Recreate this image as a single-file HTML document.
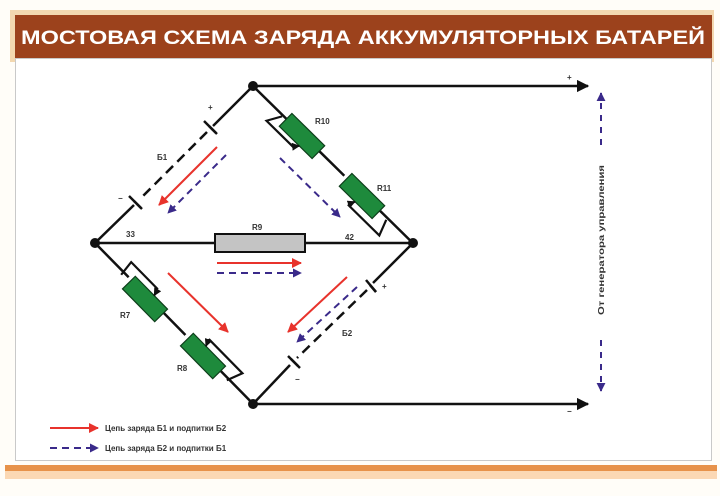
<!DOCTYPE html>
<html><head><meta charset="utf-8"><style>
html,body{margin:0;padding:0;background:#fffdf8;width:720px;height:496px;overflow:hidden}
svg{display:block}
text{font-family:"Liberation Sans",sans-serif}
</style></head><body>
<svg width="720" height="496" viewBox="0 0 720 496" xmlns="http://www.w3.org/2000/svg">
<defs>
<marker id="ak" viewBox="0 0 10 10" refX="9" refY="5" markerWidth="5" markerHeight="5" orient="auto"><path d="M0,0L10,5L0,10z" fill="#111"/></marker>
<marker id="ar" viewBox="0 0 10 10" refX="9" refY="5" markerWidth="5" markerHeight="5" orient="auto"><path d="M0,0L10,5L0,10z" fill="#e8332c"/></marker>
<marker id="ab" viewBox="0 0 10 10" refX="9" refY="5" markerWidth="4.5" markerHeight="4.5" orient="auto"><path d="M0,0L10,5L0,10z" fill="#3a2a8a"/></marker>
<marker id="as" viewBox="0 0 10 10" refX="9" refY="5" markerWidth="4" markerHeight="4" orient="auto"><path d="M0,0L10,5L0,10z" fill="#111"/></marker>
</defs>
<rect x="10" y="10" width="704" height="52" fill="#f3d8b0"/>
<rect x="15" y="15" width="697" height="43" fill="#9c421c"/>
<text x="363" y="44" text-anchor="middle" fill="#fff" font-size="19" font-weight="bold" textLength="684" lengthAdjust="spacingAndGlyphs">МОСТОВАЯ СХЕМА ЗАРЯДА АККУМУЛЯТОРНЫХ БАТАРЕЙ</text>
<rect x="15.5" y="58.5" width="696" height="402" fill="#fff" stroke="#c9c9c9"/>
<rect x="5" y="465" width="712" height="6" fill="#e7924a"/>
<rect x="5" y="471" width="712" height="8" fill="#fbd8b4"/>

<g stroke="#111" stroke-width="2.5" fill="none">
<line x1="253" y1="86" x2="588" y2="86" marker-end="url(#ak)"/>
<line x1="253" y1="404" x2="588" y2="404" marker-end="url(#ak)"/>
<line x1="95" y1="243" x2="413" y2="243"/>
<line x1="253" y1="86" x2="213" y2="126"/>
<line x1="207" y1="132" x2="140" y2="199" stroke-dasharray="10,6"/>
<line x1="134" y1="205" x2="95" y2="243"/>
<line x1="413" y1="243" x2="373" y2="283"/>
<line x1="367" y1="290" x2="297" y2="358" stroke-dasharray="10,6"/>
<line x1="290" y1="365" x2="253" y2="404"/>
</g>
<g stroke="#111" stroke-width="2.5">
<line x1="204" y1="121" x2="216" y2="133"/><line x1="209" y1="126" x2="217" y2="134"/>
<line x1="129" y1="196" x2="141" y2="208"/><line x1="134" y1="201" x2="142" y2="209"/>
<line x1="366" y1="280" x2="376" y2="292"/><line x1="370" y1="285" x2="376" y2="292"/>
<line x1="288" y1="356" x2="300" y2="368"/><line x1="291" y1="359" x2="298" y2="366"/>
</g>
<g transform="translate(253,86) rotate(44.5)">
<path d="M0,0 L49,0 M93,0 L128,0 M172,0 L224,0" stroke="#111" stroke-width="2.5" fill="none"/>
</g>
<g transform="translate(302,136) rotate(44.5)">
<rect x="-23" y="-9" width="46" height="18" fill="#1e8a3c" stroke="#0d3d1a" stroke-width="1.2"/>
<path d="M-28,0 L-36,14 L1,14" stroke="#111" stroke-width="2.2" fill="none"/>
<path d="M1,14 L5,9" stroke="#111" stroke-width="2" marker-end="url(#as)"/>
</g>
<g transform="translate(362,196) rotate(44.5)">
<rect x="-23" y="-9" width="46" height="18" fill="#1e8a3c" stroke="#0d3d1a" stroke-width="1.2"/>
<path d="M34,0 L40,16 L-4,16" stroke="#111" stroke-width="2.2" fill="none"/>
<path d="M-4,16 L-1,9" stroke="#111" stroke-width="2" marker-end="url(#as)"/>
</g>
<g transform="translate(95,243) rotate(45.5)">
<path d="M0,0 L48,0 M94,0 L129,0 M175,0 L226,0" stroke="#111" stroke-width="2.5" fill="none"/>
</g>
<g transform="translate(145,299) rotate(45.5)">
<rect x="-23" y="-9" width="46" height="18" fill="#1e8a3c" stroke="#0d3d1a" stroke-width="1.2"/>
<path d="M-34,0 L-36,-16 L2,-16" stroke="#111" stroke-width="2.2" fill="none"/>
<path d="M2,-16 L4,-9" stroke="#111" stroke-width="2" marker-end="url(#as)"/>
</g>
<g transform="translate(203,356) rotate(45.5)">
<rect x="-23" y="-9" width="46" height="18" fill="#1e8a3c" stroke="#0d3d1a" stroke-width="1.2"/>
<path d="M34,0 L40,-16 L-8,-16" stroke="#111" stroke-width="2.2" fill="none"/>
<path d="M-8,-16 L-5,-9" stroke="#111" stroke-width="2" marker-end="url(#as)"/>
</g>
<rect x="215" y="234" width="90" height="18" fill="#c4c4c4" stroke="#111" stroke-width="2"/>
<g fill="#111"><circle cx="253" cy="86" r="5"/><circle cx="95" cy="243" r="5"/><circle cx="413" cy="243" r="5"/><circle cx="253" cy="404" r="5"/></g>

<g stroke-width="2" fill="none">
<line x1="217" y1="147" x2="159" y2="205" stroke="#e8332c" marker-end="url(#ar)"/>
<line x1="226" y1="155" x2="168" y2="213" stroke="#3a2a8a" stroke-dasharray="7,5" marker-end="url(#ab)"/>
<line x1="280" y1="158" x2="340" y2="217" stroke="#3a2a8a" stroke-dasharray="7,5" marker-end="url(#ab)"/>
<line x1="217" y1="263" x2="301" y2="263" stroke="#e8332c" marker-end="url(#ar)"/>
<line x1="217" y1="273" x2="301" y2="273" stroke="#3a2a8a" stroke-dasharray="7,5" marker-end="url(#ab)"/>
<line x1="168" y1="273" x2="228" y2="332" stroke="#e8332c" marker-end="url(#ar)"/>
<line x1="347" y1="277" x2="288" y2="332" stroke="#e8332c" marker-end="url(#ar)"/>
<line x1="357" y1="287" x2="297" y2="342" stroke="#3a2a8a" stroke-dasharray="7,5" marker-end="url(#ab)"/>
<line x1="601" y1="145" x2="601" y2="93" stroke="#3a2a8a" stroke-dasharray="6,6" marker-end="url(#ab)"/>
<line x1="601" y1="340" x2="601" y2="391" stroke="#3a2a8a" stroke-dasharray="6,6" marker-end="url(#ab)"/>
<line x1="50" y1="428" x2="98" y2="428" stroke="#e8332c" marker-end="url(#ar)"/>
<line x1="50" y1="448" x2="98" y2="448" stroke="#3a2a8a" stroke-dasharray="7,5" marker-end="url(#ab)"/>
</g>

<g font-size="8" fill="#333" font-weight="bold">
<text x="157" y="160">Б1</text>
<text x="208" y="110">+</text>
<text x="118" y="201">−</text>
<text x="315" y="124">R10</text>
<text x="377" y="191">R11</text>
<text x="126" y="237">33</text>
<text x="345" y="240">42</text>
<text x="252" y="230">R9</text>
<text x="120" y="318">R7</text>
<text x="177" y="371">R8</text>
<text x="342" y="336">Б2</text>
<text x="382" y="289">+</text>
<text x="295" y="382">−</text>
<text x="567" y="80">+</text>
<text x="567" y="414">−</text>
<text x="105" y="431">Цепь заряда Б1 и подпитки Б2</text>
<text x="105" y="451">Цепь заряда Б2 и подпитки Б1</text>
<text transform="translate(604,315) rotate(-90)" textLength="150" lengthAdjust="spacingAndGlyphs">От генератора управления</text>
</g>
</svg>
</body></html>
